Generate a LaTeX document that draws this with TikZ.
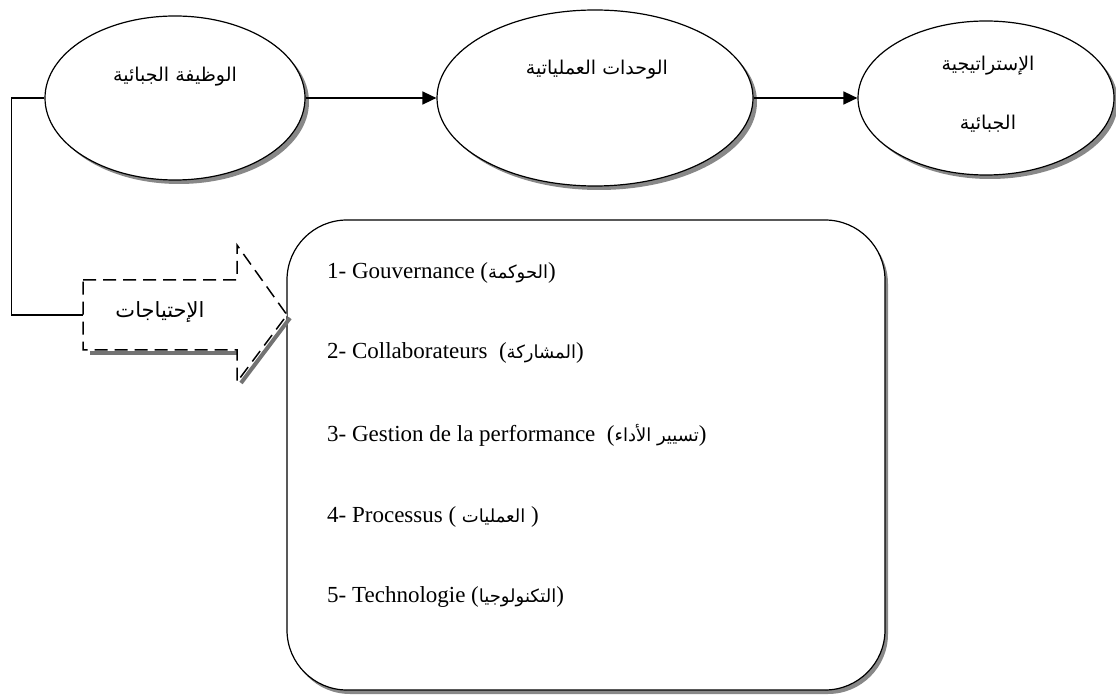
\documentclass[tikz,border=0pt]{standalone}
\usepackage{fontspec}
\setmainfont{Liberation Serif}
\newfontfamily\arabicfont[Script=Arabic]{DejaVu Sans}
\TeXXeTstate=1
\usetikzlibrary{shapes.geometric,shadows,arrows.meta}
\newcommand\artxt[1]{{\arabicfont\fontsize{18}{20}\selectfont\beginR #1\endR}}
\tikzset{
 oval/.style={ellipse,draw,line width=1.2pt,fill=white,
   drop shadow={shadow xshift=4pt,shadow yshift=-4pt,fill=black!55,opacity=.85}},
 conn/.style={line width=1.5pt,-{Triangle[length=14pt,width=13pt]}},
 artext/.style={font=\arabicfont\fontsize{19}{24}\selectfont,inner sep=0pt},
 item/.style={anchor=west,font=\fontsize{23}{27}\selectfont,inner sep=0pt},
 dasharrow/.style={draw,fill=white,line width=1.5pt,dash pattern=on 13pt off 7pt},
 arshadow/.style={draw=black!55,line width=4pt},
}
\begin{document}
\begin{tikzpicture}[x=1pt,y=-1pt]
\useasboundingbox (0,0) rectangle (1116,700);
% ellipses
\node[oval,minimum width=260,minimum height=164] (e1) at (175,98) {};
\node[oval,minimum width=316,minimum height=176] (e2) at (595,98) {};
\node[oval,minimum width=256,minimum height=154] (e3) at (986,98) {};
\node[artext] (e1t) at (175,77) {\beginR الوظيفة الجبائية\endR};
\node[artext] (e2t) at (597,70) {\beginR الوحدات العملياتية\endR};
\node[artext] (e3a) at (988,66) {\beginR الإستراتيجية\endR};
\node[artext] (e3b) at (988,124) {\beginR الجبائية\endR};
\draw[conn] (e1.east) -- (e2.west);
\draw[conn] (e2.east) -- (e3.west);
% big box
\node[draw,line width=1.2pt,fill=white,rounded corners=60pt,minimum width=598,minimum height=470,
  drop shadow={shadow xshift=3pt,shadow yshift=-4pt,fill=black!55,opacity=.85}] (box) at (586,455) {};
% dashed arrow
\coordinate (tail) at (83,315);
\coordinate (tip) at (287,315);
\draw[arshadow] (90,353) -- (237,353);
\draw[arshadow] (241,383) -- (290,318);
\draw[dasharrow] (83,280) -- (237,280) -- (237,245) -- (tip) -- (237,382) -- (237,350) -- (83,350) -- cycle;
\node[artext,font=\arabicfont\fontsize{21}{24}\selectfont] (need) at (160,312) {\beginR الإحتياجات\endR};
\draw[line width=1.5pt] (e1.west) -- ++(-33,0) |- (tail);
% items
\node[item] (i1) at (327,273) {1- Gouvernance (\artxt{الحوكمة})};
\node[item] (i2) at (327,353) {2- Collaborateurs~ (\artxt{المشاركة})};
\node[item] (i3) at (327,435) {3- Gestion de la performance~ (\artxt{تسيير الأداء})};
\node[item] (i4) at (327,517) {4- Processus ( \artxt{العمليات} )};
\node[item] (i5) at (327,597) {5- Technologie (\artxt{التكنولوجيا})};
\end{tikzpicture}
\end{document}
